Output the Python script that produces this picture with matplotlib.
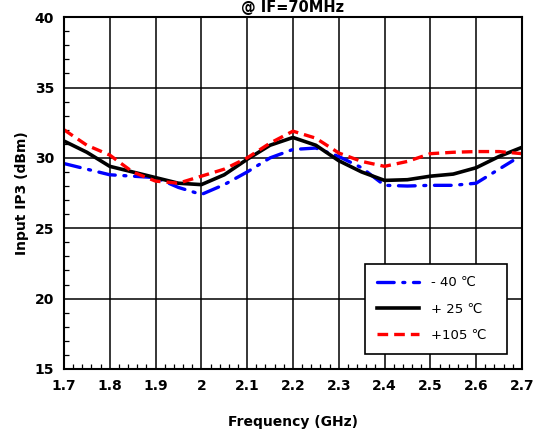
import numpy as np
import matplotlib
matplotlib.use("Agg")
import matplotlib.pyplot as plt
from matplotlib.ticker import MultipleLocator

# frequency points (GHz)
freq = [1.70, 1.75, 1.80, 1.85, 1.90, 1.95, 2.00, 2.05, 2.10, 2.15, 2.20,
        2.25, 2.30, 2.35, 2.40, 2.45, 2.50, 2.55, 2.60, 2.65, 2.70]

# Input IP3 (dBm)
iip3_m40 = [29.6, 29.2, 28.8, 28.7, 28.6, 27.9, 27.4, 28.1, 29.0, 30.0, 30.6,
            30.7, 30.1, 29.3, 28.05, 28.0, 28.05, 28.05, 28.2, 29.2, 29.9]
iip3_p25 = [31.2, 30.4, 29.4, 29.0, 28.6, 28.2, 28.1, 28.8, 29.9, 30.9, 31.45,
            30.9, 29.8, 29.0, 28.4, 28.45, 28.7, 28.85, 29.3, 30.1, 30.75]
iip3_p105 = [32.0, 30.9, 30.2, 29.0, 28.35, 28.2, 28.7, 29.2, 30.0, 31.05, 31.9,
             31.4, 30.35, 29.75, 29.4, 29.75, 30.3, 30.4, 30.45, 30.45, 30.3]

labels = ["- 40 \u2103", "+ 25 \u2103", "+105 \u2103"]

plt.rcParams['font.family'] = ['DejaVu Sans']

fig = plt.figure(figsize=(5.42, 4.30), dpi=100)
ax = fig.add_axes([0.118, 0.142, 0.845, 0.818])

# blue stops just short of 2.7
ax.plot(freq[:-1] + [2.68], iip3_m40[:-1] + [29.8], color='#0000ff', lw=2.4,
        dashes=(5, 2.6, 0.6, 2.6), dash_capstyle='round', label=labels[0])
ax.plot(freq, iip3_p25, color='black', lw=2.6, label=labels[1])
ax.plot(freq, iip3_p105, color='#ff0000', lw=2.4, dashes=(3.2, 1.8),
        label=labels[2])

ax.set_xlim(1.7, 2.7)
ax.set_ylim(15, 40)
ax.xaxis.set_minor_locator(MultipleLocator(0.02))
ax.yaxis.set_major_locator(MultipleLocator(5))
ax.yaxis.set_minor_locator(MultipleLocator(1))
ax.set_xticks(np.round(np.arange(1.7, 2.71, 0.1), 1))
ax.set_xticklabels(["1.7", "1.8", "1.9", "2", "2.1", "2.2", "2.3", "2.4",
                    "2.5", "2.6", "2.7"])

ax.grid(True, which='major', color='black', lw=1.1)
ax.tick_params(which='major', length=0, pad=7, labelsize=10)
ax.tick_params(which='minor', direction='in', length=3.5, width=0.9)
for lab in ax.get_xticklabels() + ax.get_yticklabels():
    lab.set_fontweight('bold')
for sp in ax.spines.values():
    sp.set_linewidth(1.5)

ax.set_xlabel("Frequency (GHz)", fontsize=10, fontweight='bold', labelpad=16)
ax.set_ylabel("Input IP3 (dBm)", fontsize=10, fontweight='bold', labelpad=4)

fig.text(0.54, 1 - 12 / 430, "@ IF=70MHz", ha='center', va='baseline',
         fontsize=10.5, fontweight='bold')

leg = ax.legend(loc='lower right', bbox_to_anchor=(0.982, 0.025),
                fancybox=False, edgecolor='black', framealpha=1,
                handlelength=3.2, handletextpad=0.9, labelspacing=1.0,
                borderpad=0.9, borderaxespad=0.5, fontsize=9.5)
leg.get_frame().set_linewidth(1.2)
# widen the box a little to the left like the reference
leg._legend_box.align = "left"
for t in leg.get_texts():
    t.set_text(t.get_text() + "  ")

fig.savefig("out.png", dpi=100)
